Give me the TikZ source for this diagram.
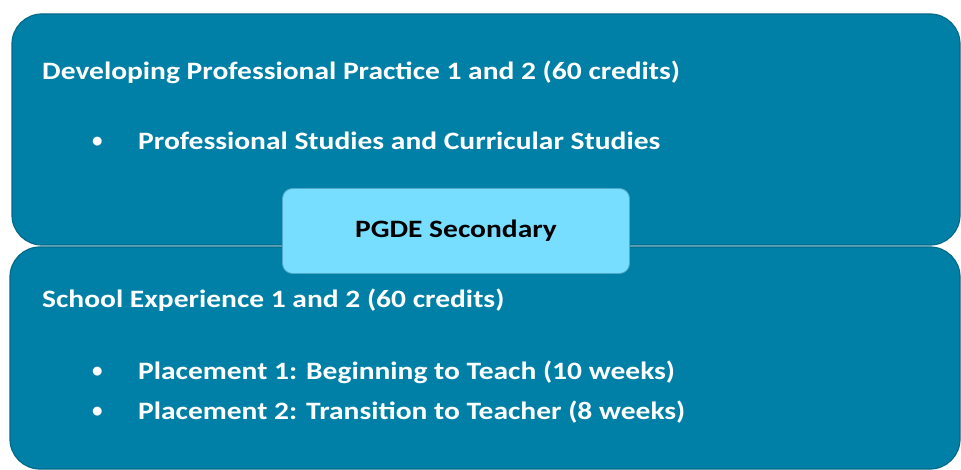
\documentclass[tikz,border=0pt]{standalone}
\usepackage{fontspec}
\usepackage{graphicx}
\setmainfont{Carlito}
\usetikzlibrary{positioning}
\definecolor{tealcol}{HTML}{0080A6}
\definecolor{tealline}{HTML}{006A8A}
\definecolor{hubcol}{HTML}{78DEFF}
\definecolor{hubline}{HTML}{4FA9C8}
\newcommand{\wide}[1]{\scalebox{1.18}[1]{#1}}
\newcommand{\dotitem}{\makebox[46pt][l]{\fontsize{21}{21}\selectfont\raisebox{2pt}{\textbullet}}}

\begin{document}
\begin{tikzpicture}[
  x=1pt, y=-1pt,
  every node/.style={align=left, inner sep=0pt},
  panel/.style={draw=tealline, fill=tealcol, line width=1.2pt, rounded corners=30pt},
  hubbox/.style={draw=hubline, fill=hubcol, line width=0.8pt, rounded corners=10pt,
                 minimum width=347pt, minimum height=85pt,
                 font=\fontsize{25}{30}\selectfont\bfseries, text=black, align=center},
  head/.style={anchor=west, text=white, font=\fontsize{25}{30}\selectfont\bfseries},
  items/.style={anchor=west, text=white, font=\fontsize{25}{40}\selectfont\bfseries}
]
\useasboundingbox (0,0) rectangle (961,470);

%% ── Upper panel : taught modules ─────────────────────────────────────────
\draw[panel] (12,14) rectangle (960,245);
\node[head] (dpp) at (42,72) {\wide{Developing Professional Practice 1 and 2 (60 credits)}};
\node[items] (dppitems) at (92,141)
      {\dotitem\wide{Professional Studies and Curricular Studies}};

%% ── Lower panel : placements ─────────────────────────────────────────────
\draw[panel] (10,247) rectangle (960,469);
\node[head] (se) at (42,300) {\wide{School Experience 1 and 2 (60 credits)}};
\node[items] (seitems) at (92,392)
      {\dotitem\wide{Placement 1: Beginning to Teach (10 weeks)}\\
       \dotitem\wide{Placement 2: Transition to Teacher (8 weeks)}};

%% ── Centre label ─────────────────────────────────────────────────────────
\node[hubbox] (pgde) at (456,231) {\raisebox{-4pt}{\wide{PGDE Secondary}}};

\end{tikzpicture}
\end{document}
